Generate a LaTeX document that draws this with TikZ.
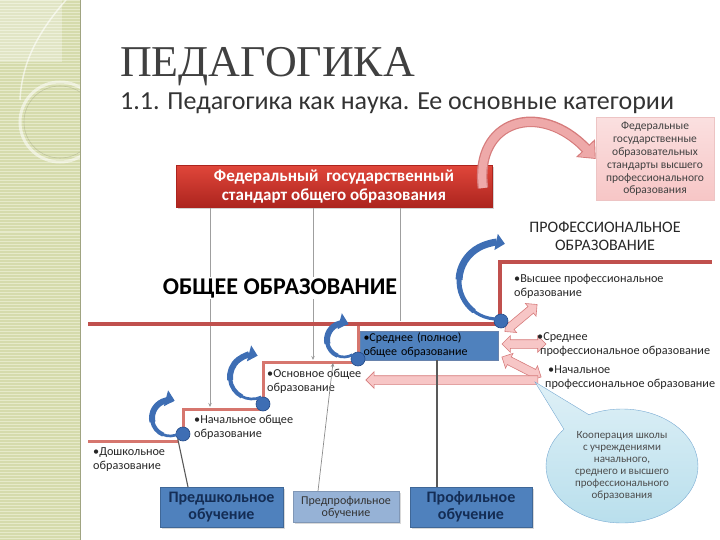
\documentclass[tikz,border=0pt]{standalone}
\usepackage{fontspec}
\setmainfont{Carlito}
\newfontfamily\titlefont{Liberation Serif}
\usetikzlibrary{arrows.meta,shapes.geometric,shapes.arrows,shapes.callouts,shadows}
\newcommand\myfs[2]{\fontsize{#1}{#2}\selectfont}
\definecolor{side}{RGB}{213,219,172}
\definecolor{sidestripe}{RGB}{230,234,202}
\definecolor{redtop}{RGB}{224,70,58}
\definecolor{redbot}{RGB}{172,36,30}
\definecolor{stair}{RGB}{214,118,110}
\definecolor{mainred}{RGB}{192,80,77}
\definecolor{bluearc}{RGB}{62,110,180}
\definecolor{bluedark}{RGB}{38,76,136}
\definecolor{boxblue}{RGB}{79,129,189}
\definecolor{boxnavy}{RGB}{20,45,85}
\definecolor{lightblue}{RGB}{150,178,214}
\definecolor{pinkfill}{RGB}{247,198,198}
\definecolor{pinkedge}{RGB}{214,124,124}
\definecolor{pinkarc}{RGB}{232,150,150}
\definecolor{cyanfill}{RGB}{183,222,236}
\definecolor{cyanedge}{RGB}{120,170,210}
% tapered curl: center x, center y, radius, start angle, end angle, final width
\newcommand\bcurl[6]{%
  \draw[draw=bluearc, line width=0.45*#6] (#1,#2) ++(#4:#3) arc[start angle=#4, end angle={#4+55}, radius=#3];
  \draw[draw=bluearc, line width=0.7*#6] (#1,#2) ++({#4+52}:#3) arc[start angle={#4+52}, end angle={#4+110}, radius=#3];
  \draw[bluecurl, line width=#6] (#1,#2) ++({#4+107}:#3) arc[start angle={#4+107}, end angle=#5, radius=#3];}
\begin{document}
\begin{tikzpicture}[x=1pt,y=-1pt,
  lbl/.style={anchor=north west, inner sep=0pt, align=left, font=\myfs{12.2}{14.5}, text=black!85},
  stairline/.style={draw=stair, line width=3pt},
  mainline/.style={draw=mainred, line width=4pt},
  ball/.style={circle, fill=bluearc, draw=bluedark, line width=0.6pt, minimum size=14pt, inner sep=0pt},
  bluecurl/.style={draw=bluearc, -{Triangle[length=9pt,width=16pt]}},
  feed/.style={draw=gray!75, line width=0.7pt},
  darkline/.style={draw=black!65, line width=1.1pt},
  pinkdouble/.style={double arrow, draw=pinkedge, fill=pinkfill, line width=0.6pt, inner sep=4pt, double arrow head extend=4pt},
  pinksingle/.style={single arrow, draw=pinkedge, fill=pinkfill, line width=0.6pt, inner sep=4pt, single arrow head extend=4pt},
  bigbox/.style={fill=boxblue, draw=boxblue!80!black, align=center, font=\bfseries\myfs{16}{17}, text=boxnavy, drop shadow={opacity=0.3,shadow xshift=1.5pt,shadow yshift=-1.5pt}}
]
\useasboundingbox (0,0) rectangle (720,540);
% sidebar
\fill[side] (0,0) rectangle (80,540);
\foreach \yy in {1,4,...,540} \draw[sidestripe, line width=1pt] (0,\yy) -- (80,\yy);
\fill[white, opacity=0.3] (0,0) rectangle (62,62);
\begin{scope}
\clip (0,0) rectangle (80,540);
\draw[white, opacity=0.6, line width=1.5pt] (66,0) .. controls (40,30) and (22,60) .. (20,100);
\draw[white, opacity=0.55, line width=3pt] (60,122) circle (40);
\draw[side!70!black, opacity=0.35, line width=0.6pt] (60,122) circle (36);
\end{scope}
\draw[side!75!black, line width=0.6pt] (80,0) -- (80,540);

% titles
\node[anchor=base west, inner sep=0pt, text=black!75, font=\titlefont\myfs{44}{44}] (title) at (120,77) {ПЕДАГОГИКА};
\node[anchor=base west, inner sep=0pt, text=black!80, font=\myfs{26}{26}] (subtitle) at (120,110) {1.1. Педагогика как наука. Ее основные категории};

% top boxes
\node[draw=pinkedge!45, top color=pinkfill!55, bottom color=pinkfill, minimum width=118pt, minimum height=83pt, inner sep=0pt, align=center, font=\myfs{11.5}{12.8}, text=black!75] (fgos) at (655,159) {Федеральные\\государственные\\образовательных\\стандарты высшего\\профессионального\\образования};
\node[top color=redtop, bottom color=redbot, draw=redbot, minimum width=316pt, minimum height=42pt, inner sep=0pt, align=center, font=\bfseries\myfs{17}{18.5}, text=white, drop shadow={opacity=0.35,shadow xshift=2pt,shadow yshift=-2pt}] (fgs) at (334,186.5) {Федеральный \ государственный\\стандарт общего образования};
\coordinate (arcstart) at (483,188);
\draw[pinkedge, line width=10.5pt, -{Triangle[length=15pt,width=25pt]}] (arcstart) .. controls (474,120) and (540,100) .. (fgos.west);
\draw[pinkarc!60!pinkfill, line width=8pt, -{Triangle[length=12.5pt,width=21pt]}, shorten >=1.4pt] (arcstart) .. controls (474,120) and (540,100) .. (fgos.west);

% feed lines
\coordinate (x1) at (210,0); \coordinate (e1) at (210,407);
\coordinate (x2) at (313,0); \coordinate (e2) at (313,360);
\coordinate (x3) at (400,0); \coordinate (e3) at (400,321);
\draw[feed, -{Stealth[length=4pt,width=3.5pt]}] (fgs.south -| x1) -- (e1);
\draw[feed, -{Stealth[length=4pt,width=3.5pt]}] (fgs.south -| x2) -- (e2);
\draw[feed] (fgs.south -| x3) -- (e3);

\node[fill=white, inner sep=1.5pt, font=\bfseries\myfs{24}{24}, text=black] (gen) at (280,288) {ОБЩЕЕ ОБРАЗОВАНИЕ};
\node[align=center, inner sep=0pt, font=\myfs{16}{18}, text=black!85] (prof) at (605,236) {ПРОФЕССИОНАЛЬНОЕ\\ОБРАЗОВАНИЕ};

% staircase
\coordinate (s0) at (88,441); \coordinate (s0e) at (178,441);
\coordinate (s1) at (183,434); \coordinate (s2) at (263,409);
\coordinate (s3) at (358,362); \coordinate (s4) at (358,326);
\draw[stairline] (s0) -- (s0e);
\draw[stairline] (s1) |- (s2) |- (s3) -- (s4);
\coordinate (m0) at (88,324); \coordinate (m1) at (500,324);
\coordinate (m2) at (500,321); \coordinate (m3) at (712,262);
\draw[mainline] (m0) -- (m1);
\draw[mainline] (m2) |- (m3);

% blue box
\node[fill=boxblue, draw=bluedark!70, minimum width=138pt, minimum height=29pt, text width=131pt, align=left, inner sep=0pt, font=\myfs{12}{14}, text=black] (sred) at (429,345.5) {•Среднее (полное)\\общее образование};

% pink arrows
\node[pinkdouble, minimum height=42pt, rotate=40] (p1) at (521,318) {};
\node[pinkdouble, minimum height=44pt] (p2) at (524,344) {};
\node[pinkdouble, minimum height=44pt, rotate=-27] (p3) at (521.5,367) {};
\node[pinksingle, minimum height=172pt, rotate=180] (p4) at (454,380) {};

% balls and curls
\node[ball] (b1) at (183,434) {};
\node[ball] (b2) at (263,404) {};
\node[ball] (b3) at (358,359) {};
\node[ball] (b4) at (501,321) {};
\bcurl{170}{418}{18}{60}{285}{6pt}
\bcurl{252}{377}{22}{65}{285}{6pt}
\bcurl{344}{340}{17}{60}{285}{6pt}
\bcurl{497}{281}{38}{75}{282}{7pt}

% labels
\node[lbl] (l1) at (514,271.9) {\strut•Высшее профессиональное\\образование};
\node[lbl] (l2) at (537,329.9) {\strut•Среднее\\\hspace*{3pt}профессиональное образование};
\node[lbl] (l3) at (545,362.9) {\strut\hspace*{3pt}•Начальное\\профессиональное образование};
\node[lbl] (l4) at (267,366.9) {\strut•Основное общее\\образование};
\node[lbl] (l5) at (194,412.9) {\strut•Начальное общее\\образование};
\node[lbl] (l6) at (93,444.9) {\strut•Дошкольное\\образование};

% bottom boxes
\node[bigbox, minimum width=123pt, minimum height=40pt] (pre) at (221.5,507) {Предшкольное\\обучение};
\node[fill=lightblue, draw=lightblue!85!black, minimum width=106pt, minimum height=31pt, align=center, inner sep=0pt, font=\myfs{12}{12}, text=black!80, drop shadow={opacity=0.3,shadow xshift=1.5pt,shadow yshift=-1.5pt}] (prep) at (346,507) {Предпрофильное\\обучение};
\node[bigbox, minimum width=122pt, minimum height=40pt] (profb) at (471,507) {Профильное\\обучение};
\coordinate (t1) at (188,487);
\coordinate (t2) at (318,491);
\coordinate (t2e) at (333,363);
\coordinate (t3) at (437,487);
\coordinate (t3e) at (437,360);
\draw[darkline] (t1) -- (b1.south west);
\draw[feed, draw=gray!90, -{Stealth[length=4pt,width=3.5pt]}] (t2) -- (t2e);
\draw[darkline] (t3) -- (t3e);

% callout
\node[ellipse callout, callout absolute pointer={(535,382)}, callout pointer arc=24, draw=cyanedge, top color=cyanfill!45, bottom color=cyanfill, minimum width=152pt, minimum height=114pt, inner sep=0pt, align=center, font=\myfs{11}{12}, text=black!70] (coop) at (622,466) {Кооперация школы\\с учреждениями\\начального,\\среднего и высшего\\профессионального\\образования};
\end{tikzpicture}
\end{document}
